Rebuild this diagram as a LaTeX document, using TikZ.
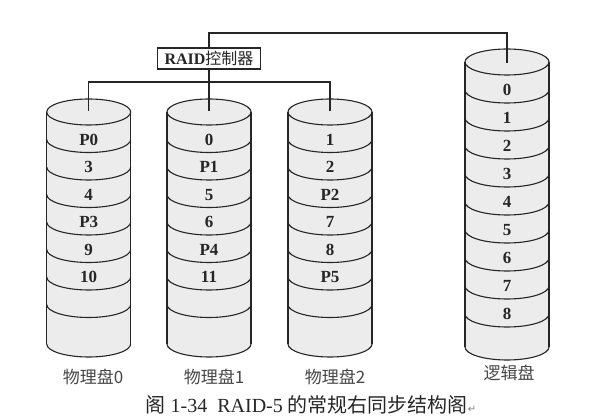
\documentclass[tikz,border=0pt]{standalone}
\usepackage{fontspec}
\setmainfont{Liberation Serif}
\newfontfamily\cjk{Noto Sans CJK SC}
\newfontfamily\djv{DejaVu Sans}
\definecolor{diskfill}{HTML}{ECECEC}
\definecolor{ink}{HTML}{262626}
\newcommand\lowarc[2]{(#1-42,#2) .. controls (#1-42,#2+7.18) and (#1-23.2,#2+13) .. (#1,#2+13) .. controls (#1+23.2,#2+13) and (#1+42,#2+7.18) .. (#1+42,#2)}
\newcommand\drawdisk[5]{%
  \fill[diskfill] (#1,#2) ellipse (42 and 13);
  \fill[diskfill] (#1-42,#2) rectangle (#1+42,#5);
  \fill[diskfill] (#1,#5) ellipse (42 and 13);
  \draw[diskline] (#1,#2) ellipse (42 and 13);
  \draw[diskline] (#1-42,#2) -- (#1-42,#5);
  \draw[diskline] (#1+42,#2) -- (#1+42,#5);
  \foreach \k in {1,...,#4} { \draw[diskline] \lowarc{#1}{#2+\k*#3}; }
  \draw[diskline] \lowarc{#1}{#5};
}
\tikzset{
  diskline/.style={draw=ink, line width=1.1pt},
  wire/.style={draw=ink, line width=1.1pt},
  lbl/.style={font=\fontsize{17}{19}\selectfont\bfseries, text=ink, inner sep=0pt, anchor=center},
  dlabel/.style={font=\fontsize{17}{19}\selectfont\cjk, text=ink!85, inner sep=0pt},
  ctrlbox/.style={draw=ink, line width=1.1pt, fill=white, minimum width=103pt, minimum height=21pt, inner sep=1pt, font=\fontsize{16}{18}\selectfont, text=ink},
}
\begin{document}
\begin{tikzpicture}[x=1pt,y=-1pt]
\useasboundingbox (0,0) rectangle (600,419);
\fill[white] (0,0) rectangle (600,419);
% disks
\drawdisk{88.7}{112}{27.5}{7}{344}
\drawdisk{209}{112}{27.5}{7}{344}
\drawdisk{330}{112}{27.5}{7}{344}
\drawdisk{507}{62}{28}{9}{347}
% band labels
\foreach \t [count=\i from 0] in {P0,3,4,P3,9,10}
  \node[lbl] (a\i) at (88.7,{126+(\i+0.5)*27.5}) {\t};
\foreach \t [count=\i from 0] in {0,P1,5,6,P4,11}
  \node[lbl] (b\i) at (209,{126+(\i+0.5)*27.5}) {\t};
\foreach \t [count=\i from 0] in {1,2,P2,7,8,P5}
  \node[lbl] (c\i) at (330,{126+(\i+0.5)*27.5}) {\t};
\foreach \t [count=\i from 0] in {0,1,2,3,4,5,6,7,8}
  \node[lbl] (e\i) at (507,{76+(\i+0.5)*28}) {\t};
% disk top centres
\coordinate (d0) at (88.7,111);
\coordinate (d1) at (209,111);
\coordinate (d2) at (330,111);
\coordinate (lg) at (507,63);
\coordinate (bus) at (209,82);
\coordinate (tl) at (507,33);
% controller
\node[ctrlbox] (ctrl) at (209,58.5) {\textbf{RAID}{\cjk 控制器}};
% wires
\draw[wire] (ctrl.north) |- (tl) -- (lg);
\draw[wire] (ctrl.south) -- (d1);
\draw[wire] (d0) |- (bus) -| (d2);
% disk names
\node[dlabel] (n0) at (93,377) {物理盘0};
\node[dlabel] (n1) at (214,377) {物理盘1};
\node[dlabel] (n2) at (335,377) {物理盘2};
\node[dlabel] (n3) at (509,373) {逻辑盘};
% caption
\node[font=\fontsize{20}{22}\selectfont, text=ink, inner sep=0pt] (cap) at (311,405) {{\cjk 阁} 1-34\ \ RAID-5 {\cjk 的常规右同步结构阁}{\djv\fontsize{10}{11}\selectfont\color{gray}↵}};
\end{tikzpicture}
\end{document}
